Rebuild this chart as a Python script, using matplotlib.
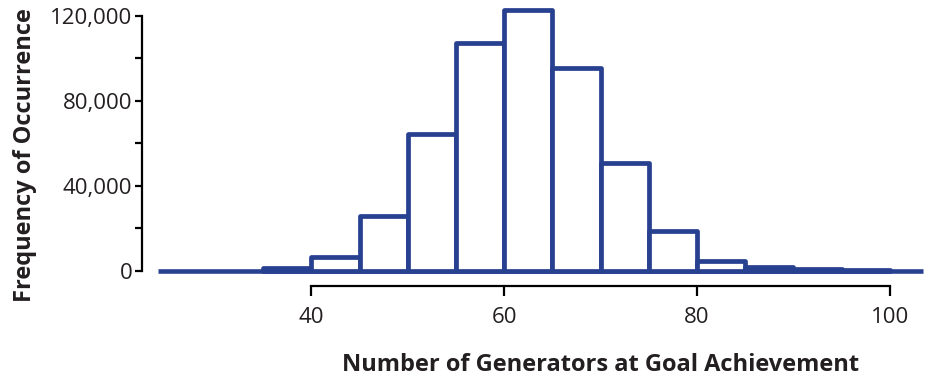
import matplotlib
matplotlib.use("Agg")
import matplotlib.pyplot as plt
import matplotlib.transforms as mtransforms
from matplotlib.ticker import FixedLocator, FuncFormatter

# Data: histogram bins (left edges, width 5) and frequencies
bin_left = [35, 40, 45, 50, 55, 60, 65, 70, 75, 80, 85, 90, 95]
counts = [1200, 6400, 25600, 64200, 107000, 122500, 95300, 50600, 18700, 4600, 1500, 500, 100]
bin_width = 5

x_ticks = [40, 60, 80, 100]
y_major = [0, 40000, 80000, 120000]
y_minor = [20000, 60000, 100000]

xlabel = "Number of Generators at Goal Achievement"
ylabel = "Frequency of Occurrence"

blue = "#27408f"
txt = "#231f20"

plt.rcParams['font.family'] = ['Open Sans', 'DejaVu Sans']

fig = plt.figure(figsize=(9.29, 3.81), dpi=100)
ax = fig.add_axes([0.170, 0.290, 0.8235, 0.7047])

xmin, xmax = 24.08, 103.43
ax.set_xlim(xmin, xmax)
ax.set_ylim(0, 126350)

ax.plot([xmin, xmax], [0, 0], color=blue, lw=3.3, clip_on=False,
        solid_capstyle='butt', zorder=2)
ax.bar(bin_left, counts, width=bin_width, align='edge', facecolor='white',
       edgecolor=blue, linewidth=3.4, clip_on=False, zorder=3,
       joinstyle='round')

for s in ['top', 'right']:
    ax.spines[s].set_visible(False)
ax.spines['left'].set_position(('outward', 11.5))
ax.spines['bottom'].set_position(('outward', 11.3))
ax.spines['left'].set_bounds(0, 120000)
ax.spines['bottom'].set_bounds(40, 100)
for s in ['left', 'bottom']:
    ax.spines[s].set_linewidth(1.6)
    ax.spines[s].set_color('black')

ax.xaxis.set_major_locator(FixedLocator(x_ticks))
ax.yaxis.set_major_locator(FixedLocator(y_major))
ax.yaxis.set_minor_locator(FixedLocator(y_minor))
ax.yaxis.set_major_formatter(FuncFormatter(lambda v, p: f"{int(v):,}"))

ax.tick_params(axis='x', direction='out', length=7, width=1.6, pad=8,
               labelsize=16, labelcolor=txt)
ax.tick_params(axis='y', which='both', direction='out', length=5, width=1.6,
               pad=2, labelsize=16, labelcolor=txt)

trans = mtransforms.blended_transform_factory(ax.transData, fig.transFigure)
ax.text(70, 1 - 365 / 381, xlabel, transform=trans, ha='center',
        va='center', fontsize=17, fontweight='bold', color=txt)

fig.text(25 / 929, 1 - 155 / 381, ylabel, rotation=90, ha='center', va='center',
         fontsize=17, fontweight='bold', color=txt)

fig.savefig("out.png", dpi=100)
